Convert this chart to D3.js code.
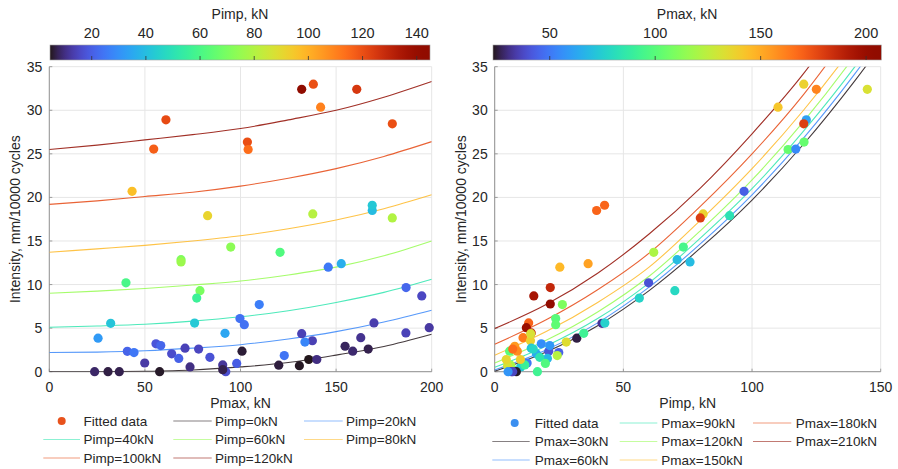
<!DOCTYPE html>
<html><head><meta charset="utf-8">
<script src="https://cdn.jsdelivr.net/npm/d3@7"></script>
<style>
body{margin:0;background:#fff;}
svg{font-family:"Liberation Sans", Arial, Helvetica, sans-serif;}
</style></head><body>
<svg id="chart" width="898" height="469"></svg>
<script>
// Test results: one entry per specimen (max load, impact load, wear intensity)
const pmaxKN = [138.1,160.8,132.0,141.9,61.0,179.4,103.6,104.0,54.6,43.3,
  137.8,179.4,82.8,168.9,168.9,120.7,94.9,68.9,68.9,145.9,
  152.7,40.1,78.8,77.1,186.6,194.8,205.0,109.8,99.7,102.0,
  169.8,198.7,186.5,162.9,137.6,133.7,25.5,91.9,32.1,76.0,
  132.0,40.8,44.3,55.8,58.3,64.0,71.0,78.1,67.7,84.0,
  49.9,98.0,92.3,73.6,90.7,90.7,100.8,122.9,120.0,130.8,
  135.7,139.9,154.7,158.7,166.8,23.7,30.7,36.6,57.7];
const pimpKN = [120.1,125.0,144.8,110.1,121.1,120.1,120.2,114.0,117.0,96.9,
  81.0,79.9,91.3,39.6,42.7,61.8,73.3,70.9,75.9,25.3,
  36.3,59.8,70.0,56.2,21.6,15.2,21.6,26.3,23.7,23.7,
  13.2,12.3,14.2,11.0,13.9,27.8,31.9,34.6,41.7,42.8,
  14.0,21.0,24.9,18.1,21.4,16.2,14.2,15.0,20.5,17.5,
  12.6,19.7,16.6,10.1,11.7,7.0,5.8,24.3,6.2,5.0,
  4.5,10.0,7.8,8.8,7.0,8.4,6.5,7.0,5.2];
const intensity = [33.0,32.4,32.4,30.35,28.9,28.45,26.35,25.5,25.55,20.7,
  18.1,17.65,17.9,18.5,19.1,13.7,14.3,12.85,12.6,12.0,
  12.4,10.2,9.3,8.45,9.65,8.7,7.77,7.7,6.1,5.4,
  5.6,5.05,4.45,3.9,3.55,3.4,3.85,4.4,5.55,5.58,
  4.36,2.34,2.2,3.2,3.0,2.05,2.7,2.6,1.52,1.65,
  1.0,0.95,0.0,0.55,0.78,0.23,2.35,1.85,0.75,0.69,
  1.4,1.4,2.92,2.35,2.6,0.0,0.0,0.0,0.0];

// Fitted surface, left panel: intensity against Pmax for fixed Pimp levels
const pmaxGrid = [0,25,50,75,100,125,150,175,200];
const pimpLevels = [0,20,40,60,80,100,120];
const curvesByPimp = [
  [0,0,0.05,0.2,0.55,1.05,1.9,2.9,4.3],
  [2.2,2.25,2.4,2.7,3.1,3.75,4.6,5.7,7.05],
  [5.1,5.25,5.45,5.8,6.3,7.0,7.95,9.1,10.6],
  [9.0,9.25,9.55,9.95,10.4,11.1,12.0,13.3,15.0],
  [13.7,14.1,14.5,15.0,15.6,16.4,17.4,18.7,20.3],
  [19.2,19.6,20.1,20.6,21.3,22.2,23.3,24.7,26.4],
  [25.5,26.0,26.6,27.2,27.9,28.9,30.0,31.5,33.3]
];

// Fitted surface, right panel: intensity against Pimp for fixed Pmax levels
const pimpGrid = [0,20,40,60,80,100,120,140,160];
const pmaxLevels = [30,60,90,120,150,180,210];
const curvesByPmax = [
  [0.05,2.27,5.28,9.3,14.2,19.7,26.1,33.4,41.5],
  [0.2,2.5,5.6,9.7,14.7,20.3,26.8,34.2,42.5],
  [0.5,2.95,6.1,10.2,15.35,21.0,27.6,35.0,43.4],
  [1.0,3.6,6.85,10.95,16.2,22.0,28.7,36.3,44.9],
  [1.9,4.6,7.95,12.0,17.4,23.3,30.0,37.6,46.3],
  [3.15,5.95,9.4,13.6,19.0,25.0,31.8,39.8,48.7],
  [4.95,7.7,11.3,15.8,21.1,27.3,34.2,42.5,51.6]
];

const yTicks = [0,5,10,15,20,25,30,35];
const leftXTicks = [0,50,100,150,200];
const rightXTicks = [0,50,100,150];
const pimpBarTicks = [20,40,60,80,100,120,140];
const pmaxBarTicks = [50,100,150,200];
const pimpBarRange = [4.6,144.9];
const pmaxBarRange = [23.1,207.2];

const svg = d3.select("#chart");
const textColor = "#262626";
const yTop = 66.7, yBottom = 371.7;
const y = d3.scaleLinear().domain([0,35]).range([yBottom,yTop]);

const pimpColor = d3.scaleSequential(d3.interpolateTurbo).domain(pimpBarRange).clamp(true);
const pmaxColor = d3.scaleSequential(d3.interpolateTurbo).domain(pmaxBarRange).clamp(true);

const rows = pmaxKN.map((d,i)=>({pmax:d, pimp:pimpKN[i], I:intensity[i]}));

function colorbar(x0, x1, range, ticks, title, id){
  const g = svg.append("g");
  const grad = svg.append("defs").append("linearGradient").attr("id",id)
    .attr("x1","0%").attr("x2","100%");
  d3.range(0,1.0001,0.02).forEach(t=>{
    grad.append("stop").attr("offset",(t*100)+"%").attr("stop-color",d3.interpolateTurbo(t));
  });
  const s = d3.scaleLinear().domain(range).range([x0,x1]);
  g.append("rect").attr("x",x0).attr("y",45).attr("width",x1-x0).attr("height",15)
    .attr("fill",`url(#${id})`).attr("stroke","#a0a0a0").attr("stroke-width",0.6);
  ticks.forEach(t=>{
    g.append("line").attr("x1",s(t)).attr("x2",s(t)).attr("y1",60).attr("y2",56)
      .attr("stroke","#333").attr("stroke-width",0.8);
    g.append("text").attr("x",s(t)).attr("y",38).attr("text-anchor","middle")
      .attr("font-size",14.5).attr("fill",textColor).text(t);
  });
  g.append("text").attr("x",(x0+x1)/2).attr("y",18.5).attr("text-anchor","middle")
    .attr("font-size",14).attr("fill",textColor).text(title);
}

function panel(opt){
  const x = d3.scaleLinear().domain(opt.xDomain).range([opt.x0,opt.x1]);
  const g = svg.append("g");
  const clipId = opt.id+"-clip";
  svg.append("defs").append("clipPath").attr("id",clipId).append("rect")
    .attr("x",opt.x0).attr("y",yTop).attr("width",opt.x1-opt.x0).attr("height",yBottom-yTop);

  // grid
  opt.xTicks.forEach(t=>{
    g.append("line").attr("x1",x(t)).attr("x2",x(t)).attr("y1",yTop).attr("y2",yBottom)
      .attr("stroke","#e6e6e6").attr("stroke-width",1);
  });
  yTicks.forEach(t=>{
    g.append("line").attr("x1",opt.x0).attr("x2",opt.x1).attr("y1",y(t)).attr("y2",y(t))
      .attr("stroke","#e6e6e6").attr("stroke-width",1);
  });
  // axes lines
  g.append("line").attr("x1",opt.x0).attr("x2",opt.x0).attr("y1",yTop).attr("y2",yBottom)
    .attr("stroke","#8a8a8a").attr("stroke-width",0.9);
  g.append("line").attr("x1",opt.x0).attr("x2",opt.x1).attr("y1",yBottom).attr("y2",yBottom)
    .attr("stroke","#8a8a8a").attr("stroke-width",0.9);
  // tick marks and labels
  opt.xTicks.forEach(t=>{
    g.append("line").attr("x1",x(t)).attr("x2",x(t)).attr("y1",yBottom).attr("y2",yBottom-3)
      .attr("stroke","#8a8a8a").attr("stroke-width",0.8);
    g.append("text").attr("x",x(t)).attr("y",391.5).attr("text-anchor","middle")
      .attr("font-size",14).attr("fill",textColor).text(t);
  });
  yTicks.forEach(t=>{
    g.append("line").attr("x1",opt.x0).attr("x2",opt.x0+3).attr("y1",y(t)).attr("y2",y(t))
      .attr("stroke","#8a8a8a").attr("stroke-width",0.8);
    g.append("text").attr("x",opt.x0-7).attr("y",y(t)).attr("dy","0.36em").attr("text-anchor","end")
      .attr("font-size",14).attr("fill",textColor).text(t);
  });
  // axis titles
  g.append("text").attr("x",(opt.x0+opt.x1)/2).attr("y",408).attr("text-anchor","middle")
    .attr("font-size",14).attr("fill",textColor).text(opt.xLabel);
  g.append("text").attr("transform",`translate(${opt.x0-34},${(yTop+yBottom)/2}) rotate(-90)`)
    .attr("text-anchor","middle").attr("dy","0.36em")
    .attr("font-size",14).attr("fill",textColor).text("Intensity, mm/10000 cycles");

  // fitted curves
  const lineColor = d3.scaleSequential(d3.interpolateTurbo)
    .domain(d3.extent(opt.levels));
  const line = d3.line().x(d=>x(d[0])).y(d=>y(d[1])).curve(d3.curveMonotoneX);
  const cg = g.append("g").attr("clip-path",`url(#${clipId})`);
  opt.curves.forEach((vals,k)=>{
    cg.append("path").attr("d",line(opt.grid.map((gx,j)=>[gx,vals[j]])))
      .attr("fill","none").attr("stroke",lineColor(opt.levels[k]))
      .attr("stroke-width",1.1).attr("stroke-opacity",0.85);
  });

  // data points
  rows.filter(r=>opt.xOf(r)>=opt.xDomain[0] && opt.xOf(r)<=opt.xDomain[1])
    .forEach(r=>{
      g.append("circle").attr("cx",x(opt.xOf(r))).attr("cy",y(r.I)).attr("r",4.6)
        .attr("fill",opt.colorOf(r));
    });

  // legend
  const lg = g.append("g");
  opt.legend.forEach(item=>{
    const cx = opt.legendCols[item.col], cy = opt.legendRows[item.row];
    if(item.dot){
      lg.append("circle").attr("cx",cx.mid).attr("cy",cy).attr("r",4).attr("fill",item.dot);
    } else {
      lg.append("line").attr("x1",cx.l0).attr("x2",cx.l1).attr("y1",cy).attr("y2",cy)
        .attr("stroke",lineColor(item.level)).attr("stroke-width",1.2).attr("stroke-opacity",0.55);
    }
    lg.append("text").attr("x",cx.tx).attr("y",cy).attr("dy","0.36em")
      .attr("font-size",13.5).attr("fill",textColor).text(item.label);
  });
}

colorbar(50, 430, pimpBarRange, pimpBarTicks, "Pimp, kN", "gradPimp");
colorbar(493, 881.3, pmaxBarRange, pmaxBarTicks, "Pmax, kN", "gradPmax");

// left: row-major legend
const leftLegend = [{label:"Fitted data", dot:"#e8521c"}]
  .concat(pimpLevels.map(v=>({label:`Pimp=${v}kN`, level:v})))
  .map((d,i)=>Object.assign(d,{row:Math.floor(i/3), col:i%3}));
panel({
  id:"left", x0:49.3, x1:431.7, xDomain:[0,200], xTicks:leftXTicks, xLabel:"Pmax, kN",
  grid:pmaxGrid, levels:pimpLevels, curves:curvesByPimp,
  xOf:r=>r.pmax, colorOf:r=>pimpColor(r.pimp),
  legend:leftLegend,
  legendRows:[421,439.5,458],
  legendCols:[{l0:43.3,l1:80,mid:61.7,tx:83.5},{l0:173.3,l1:211.7,mid:192.5,tx:215},{l0:304,l1:342.7,mid:323,tx:346}]
});

// right: column-major legend
const rightLegend = [{label:"Fitted data", dot:"#3b8ff0"}]
  .concat(pmaxLevels.map(v=>({label:`Pmax=${v}kN`, level:v})))
  .map((d,i)=>Object.assign(d,{row:i%3, col:Math.floor(i/3)}));
panel({
  id:"right", x0:494.7, x1:880.7, xDomain:[0,150], xTicks:rightXTicks, xLabel:"Pimp, kN",
  grid:pimpGrid, levels:pmaxLevels, curves:curvesByPmax,
  xOf:r=>r.pimp, colorOf:r=>pmaxColor(r.pmax),
  legend:rightLegend,
  legendRows:[423,441.5,460],
  legendCols:[{l0:492.3,l1:529.7,mid:514.7,tx:534.7},{l0:619.7,l1:657.3,mid:638.5,tx:661.3},{l0:753,l1:791.3,mid:772,tx:795.7}]
});
</script>
</body></html>
